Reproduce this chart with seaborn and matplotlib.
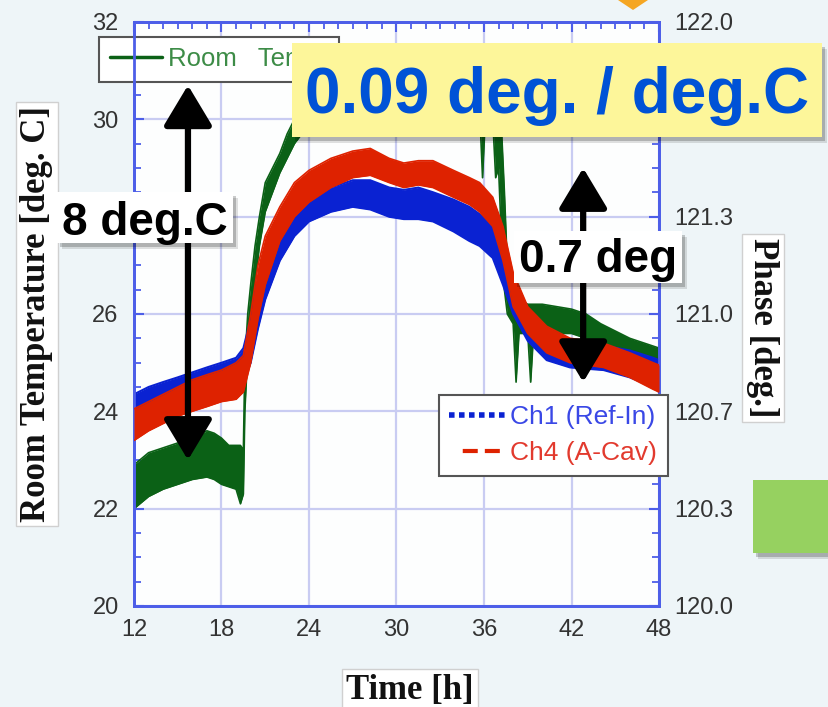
import numpy as np
import pandas as pd
import seaborn as sns
import matplotlib
matplotlib.use("Agg")
import matplotlib.pyplot as plt
from matplotlib.patches import Rectangle, Polygon
from matplotlib.lines import Line2D
from matplotlib.ticker import MultipleLocator, FixedLocator, FixedFormatter

# ---------------- data ----------------
# Room temperature band [deg C] (left axis)
t_room = [12.0, 13.0, 14.0, 15.0, 16.0, 17.0, 17.5, 18.0, 18.5, 19.0, 19.3, 19.5,
          19.6, 19.8, 20.0, 20.3, 20.6, 21.0, 21.5, 22.0, 22.5, 23.0, 23.5, 24.0,
          26.0, 28.0, 30.0, 32.0, 34.0, 35.7, 35.9, 36.1, 36.6, 36.8, 37.0, 37.2,
          37.4, 37.6, 38.0, 38.2, 38.4, 39.0, 39.2, 39.4, 40.0, 42.0, 43.0, 44.0,
          45.0, 46.0, 47.0, 48.0]
room_lo = [22.0, 22.25, 22.4, 22.5, 22.6, 22.65, 22.6, 22.5, 22.45, 22.4, 22.1, 22.3,
           24.0, 25.2, 26.0, 26.6, 27.4, 28.1, 28.5, 28.9, 29.2, 29.5, 29.7, 29.9,
           30.3, 30.5, 30.5, 30.5, 30.4, 30.2, 28.8, 30.1, 30.0, 28.8, 29.0, 27.5,
           26.5, 26.0, 25.8, 24.6, 25.6, 25.6, 24.6, 25.6, 25.6, 25.6, 25.5, 25.35,
           25.15, 25.05, 24.95, 24.85]
room_hi = [22.9, 23.15, 23.25, 23.35, 23.45, 23.6, 23.55, 23.45, 23.3, 23.3, 23.3, 23.2,
           25.0, 26.0, 26.6, 27.4, 28.0, 28.7, 29.0, 29.3, 29.7, 30.0, 30.4, 30.7,
           31.0, 31.2, 31.2, 31.2, 31.1, 31.0, 30.9, 30.9, 30.8, 30.7, 30.5, 29.8,
           28.5, 27.0, 26.5, 26.4, 26.3, 26.2, 26.2, 26.2, 26.2, 26.1, 26.0, 25.8,
           25.65, 25.5, 25.4, 25.3]

# Phase bands [deg] (right axis)
t_phase = [12.0, 13.0, 14.0, 15.0, 16.0, 17.0, 18.0, 19.0, 19.5, 20.0, 20.5, 21.0,
           22.0, 23.0, 24.0, 25.5, 27.0, 28.2, 29.5, 30.5, 31.5, 32.5, 33.9, 35.0,
           35.7, 36.6, 37.3, 38.0, 39.0, 40.3, 41.9, 44.2, 46.0, 47.6, 48.0]
ch1_lo = [120.600, 120.633, 120.658, 120.683, 120.700, 120.717, 120.733, 120.750,
          120.767, 120.833, 120.950, 121.050, 121.183, 121.267, 121.317, 121.350,
          121.367, 121.358, 121.333, 121.325, 121.325, 121.317, 121.283, 121.250,
          121.233, 121.192, 121.100, 121.000, 120.908, 120.842, 120.817, 120.808,
          120.783, 120.750, 120.733]
ch1_hi = [120.725, 120.750, 120.767, 120.783, 120.800, 120.817, 120.833, 120.850,
          120.883, 120.983, 121.117, 121.217, 121.333, 121.400, 121.425, 121.433,
          121.458, 121.458, 121.433, 121.425, 121.433, 121.417, 121.392, 121.367,
          121.342, 121.308, 121.233, 121.133, 121.000, 120.933, 120.908, 120.892,
          120.875, 120.850, 120.842]
ch4_lo = [120.567, 120.600, 120.625, 120.650, 120.667, 120.683, 120.700, 120.708,
          120.733, 120.833, 120.983, 121.100, 121.250, 121.333, 121.383, 121.433,
          121.467, 121.475, 121.450, 121.433, 121.442, 121.433, 121.400, 121.375,
          121.350, 121.300, 121.183, 121.025, 120.933, 120.867, 120.833, 120.817,
          120.783, 120.742, 120.733]
ch4_hi = [120.675, 120.700, 120.725, 120.750, 120.775, 120.792, 120.808, 120.833,
          120.858, 121.000, 121.167, 121.267, 121.367, 121.450, 121.492, 121.533,
          121.558, 121.567, 121.533, 121.517, 121.525, 121.525, 121.492, 121.467,
          121.450, 121.400, 121.300, 121.142, 121.025, 120.958, 120.917, 120.900,
          120.867, 120.833, 120.825]

x_ticks = [12, 18, 24, 30, 36, 42, 48]
left_ticks = [20, 22, 24, 26, 28, 30, 32]
# the 28 label is hidden behind the "8 deg.C" callout in the reference
left_labels = ["20", "22", "24", "26", "", "30", "32"]
right_ticks = [120.0, 120.0 + 1 / 3, 120.0 + 2 / 3, 121.0, 121.0 + 1 / 3, 121.0 + 2 / 3, 122.0]
# the 121.7 label is hidden behind the yellow callout in the reference
right_labels = ["120.0", "120.3", "120.7", "121.0", "121.3", "", "122.0"]

room_label = "Room   Temp."
ch1_label = "Ch1 (Ref-In)"
ch4_label = "Ch4 (A-Cav)"
note_main = "0.09 deg. / deg.C"
note_left = "8 deg.C"
note_right = "0.7 deg"

# annotation arrows: (time, from, to) in room-temperature units
arrow_left = (15.7, 23.0, 30.7)
arrow_right = (42.8, 24.6, 29.0)

# ---------------- style ----------------
sns.set_theme(style="white")
plt.rcParams["font.family"] = ["Liberation Sans", "DejaVu Sans"]

GREEN = "#0b6116"
BLUE = "#0a22d2"
RED = "#de2200"
SPINE = "#4d5ee8"
GRID = "#c9ccf2"
TICKC = "#333333"

W, H = 829, 707
fig = plt.figure(figsize=(W / 100, H / 100), dpi=100, facecolor="#eef5f8")


def fx(x):
    return x / W


def fy(y):
    return 1 - y / H


def prect(x0, y0, x1, y1, **kw):
    r = Rectangle((fx(x0), fy(y1)), (x1 - x0) / W, (y1 - y0) / H,
                  transform=fig.transFigure, **kw)
    fig.add_artist(r)
    return r


ax = fig.add_axes([fx(134), fy(606), 525 / W, 584 / H])
ax.set_facecolor("#fdfefe")
ax.set_xlim(12, 48)
ax.set_ylim(20, 32)

# room temperature band
ax.fill_between(t_room, room_lo, room_hi, color=GREEN, lw=0, zorder=2)
sns.lineplot(x=t_room, y=room_lo, ax=ax, color=GREEN, lw=1.2, legend=False, zorder=2)
sns.lineplot(x=t_room, y=room_hi, ax=ax, color=GREEN, lw=1.2, legend=False, zorder=2)

ax.xaxis.set_major_locator(FixedLocator(x_ticks))
ax.yaxis.set_major_locator(FixedLocator(left_ticks))
ax.yaxis.set_major_formatter(FixedFormatter(left_labels))
ax.xaxis.set_minor_locator(MultipleLocator(1))
ax.yaxis.set_minor_locator(MultipleLocator(0.5))
ax.grid(True, which="major", color=GRID, lw=1.6)
ax.set_axisbelow(True)
ax.tick_params(axis="both", which="both", direction="in", color=SPINE,
               labelcolor=TICKC, labelsize=17)
ax.tick_params(which="major", length=7, width=1.5)
ax.tick_params(which="minor", length=5, width=1.3)
ax.tick_params(axis="x", which="both", top=True, pad=9)
ax.tick_params(axis="y", which="both", right=False, pad=11)
ax.set_xlabel("")
ax.set_ylabel("")

ax2 = ax.twinx()
ax2.set_ylim(120, 122)
ax2.fill_between(t_phase, ch1_lo, ch1_hi, color=BLUE, lw=0, zorder=2)
sns.lineplot(x=t_phase, y=ch1_lo, ax=ax2, color=BLUE, lw=1.5, legend=False, zorder=2)
sns.lineplot(x=t_phase, y=ch1_hi, ax=ax2, color=BLUE, lw=1.5, legend=False, zorder=2)
ax2.fill_between(t_phase, ch4_lo, ch4_hi, color=RED, lw=0, zorder=3)
sns.lineplot(x=t_phase, y=ch4_lo, ax=ax2, color=RED, lw=1.2, legend=False, zorder=3)
sns.lineplot(x=t_phase, y=ch4_hi, ax=ax2, color=RED, lw=1.2, legend=False, zorder=3)
ax2.yaxis.set_major_locator(FixedLocator(right_ticks))
ax2.yaxis.set_major_formatter(FixedFormatter(right_labels))
ax2.yaxis.set_minor_locator(MultipleLocator(1 / 12))
ax2.grid(False)
ax2.tick_params(axis="y", which="both", direction="in", color=SPINE,
                labelcolor=TICKC, labelsize=17, left=False, right=True, pad=11)
ax2.tick_params(axis="y", which="major", length=7, width=1.5)
ax2.tick_params(axis="y", which="minor", length=5, width=1.3)
ax2.set_ylabel("")
ax2.set_xlabel("")

for a in (ax, ax2):
    for s in a.spines.values():
        s.set_color(SPINE)
        s.set_linewidth(2)

# legends
h_room = [Line2D([], [], color=GREEN, lw=2.5)]
leg1 = ax.legend(h_room, [room_label], loc="upper left", bbox_to_anchor=(-0.066, 0.975),
                 frameon=True, fancybox=False, fontsize=18.5, handlelength=2.0,
                 handletextpad=0.25, borderpad=0.42, borderaxespad=0)
leg1.get_frame().set_edgecolor("#555555")
leg1.get_frame().set_linewidth(1.5)
leg1.get_frame().set_facecolor("white")
leg1.get_frame().set_alpha(1)
for tx in leg1.get_texts():
    tx.set_color("#3d8c47")
leg1.set_zorder(20)

h_ph = [Line2D([], [], color=BLUE, lw=4, ls=(0, (1.0, 0.8))),
        Line2D([], [], color=RED, lw=3, ls=(0, (0, 3.3, 3.6, 1.7, 3.6, 10)))]
leg2 = ax2.legend(h_ph, [ch1_label, ch4_label], loc="lower right",
                  bbox_to_anchor=(1.017, 0.223), frameon=True, fancybox=False,
                  fontsize=19, handlelength=2.2, handletextpad=0.12, borderpad=0.4,
                  labelspacing=0.45, borderaxespad=0)
leg2.get_frame().set_edgecolor("#555555")
leg2.get_frame().set_linewidth(1.5)
leg2.get_frame().set_facecolor("white")
leg2.get_frame().set_alpha(1)
for tx, c in zip(leg2.get_texts(), ["#3a48e6", "#e23a2e"]):
    tx.set_color(c)
leg2.set_zorder(20)

# arrows
for (t, v0, v1) in (arrow_left, arrow_right):
    ax2.annotate("", xy=(t, v1), xytext=(t, v0), xycoords=ax.transData,
                 textcoords=ax.transData, annotation_clip=False, zorder=30,
                 arrowprops=dict(arrowstyle="<|-|>,head_length=1.0,head_width=0.6",
                                 mutation_scale=25, lw=4.5, color="black",
                                 shrinkA=0, shrinkB=0))

# axis labels with white boxes
lab_kw = dict(family=["Liberation Serif", "DejaVu Serif"], weight="bold", size=25,
              color="#111111", ha="center", va="center")
box_kw = dict(boxstyle="square,pad=0.12", fc="white", ec="#d0d0d0", lw=1)
fig.text(fx(37), fy(314), "Room Temperature [deg. C]", rotation=90, bbox=box_kw, **lab_kw)
fig.text(fx(410), fy(690), "Time [h]", bbox=box_kw, **lab_kw)
fig.text(fx(763), fy(328), "Phase [deg.]", rotation=270, bbox=box_kw, **lab_kw)


# callout boxes
def shadow(x0, y0, x1, y1):
    prect(x0 + 5, y0 + 6, x1 + 5, y1 + 6, fc="black", ec="none", alpha=0.12, zorder=4)
    prect(x0 + 3, y0 + 4, x1 + 3, y1 + 4, fc="black", ec="none", alpha=0.2, zorder=4)


shadow(292, 43, 822, 137)
prect(292, 43, 822, 137, fc="#fdf69a", ec="none", zorder=5)
fig.text(fx(557), fy(113), note_main, ha="center", va="baseline", size=46,
         weight="bold", color="#0052d6", zorder=6)

shadow(57, 192, 233, 243)
prect(57, 192, 233, 243, fc="white", ec="none", zorder=5)
fig.text(fx(145), fy(235), note_left, ha="center", va="baseline", size=33,
         weight="bold", color="black", zorder=6)

shadow(514, 231, 682, 283)
prect(514, 231, 682, 283, fc="white", ec="none", zorder=5)
fig.text(fx(598), fy(272), note_right, ha="center", va="baseline", size=33,
         weight="bold", color="black", zorder=6)

# decorative slide elements
shadow(753, 480, 829, 553)
prect(753, 480, 829, 553, fc="#96d160", ec="none", zorder=5)
fig.add_artist(Polygon([(fx(618), fy(0)), (fx(648), fy(0)), (fx(633), fy(10))],
                       closed=True, transform=fig.transFigure, fc="#f5a623",
                       ec="none", zorder=5))

fig.savefig("out.png", dpi=100, facecolor=fig.get_facecolor())
